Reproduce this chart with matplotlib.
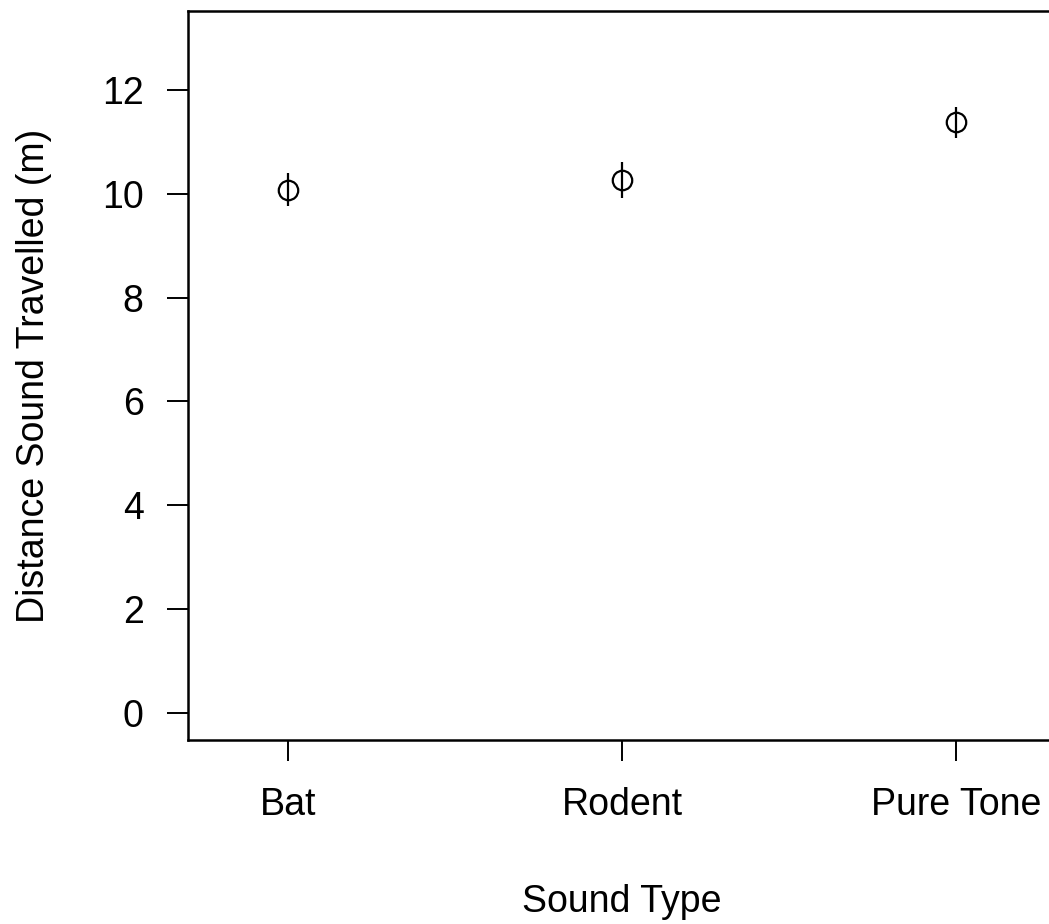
import matplotlib
matplotlib.use('Agg')
import matplotlib.pyplot as plt
import numpy as np

plt.rcParams['font.family'] = ['Liberation Sans', 'DejaVu Sans']

sound_types = ['Bat', 'Rodent', 'Pure Tone']
mean_dist = [10.08, 10.27, 11.38]
err_dist = [0.32, 0.35, 0.30]

W, H = 1049, 924
fig = plt.figure(figsize=(W / 100, H / 100), dpi=100)
# axes box: left 188px, top 11px, bottom 740px, right edge past the figure
ax = fig.add_axes([188 / W, 1 - 740 / H, (1056 - 188) / W, (740 - 11) / H])

x = np.arange(1, len(sound_types) + 1)
ax.errorbar(x, mean_dist, yerr=err_dist, fmt='o', mfc='none', mec='black',
            ms=14, mew=1.6, ecolor='black', elinewidth=1.6, capsize=0)

ax.set_xlim(0.7, 3.3)
ax.set_ylim(-0.52, 13.52)
ax.set_xticks(x)
ax.set_xticklabels(sound_types)
ax.set_yticks([0, 2, 4, 6, 8, 10, 12])

for s in ax.spines.values():
    s.set_linewidth(1.8)

ax.tick_params(axis='both', labelsize=27, length=15, width=1.4, direction='out')
ax.tick_params(axis='x', pad=19)
ax.tick_params(axis='y', pad=17)

ax.set_xlabel('Sound Type', fontsize=27, labelpad=44)
ax.set_ylabel('Distance Sound Travelled (m)', fontsize=27, labelpad=36)

fig.savefig('out.png', dpi=100)
